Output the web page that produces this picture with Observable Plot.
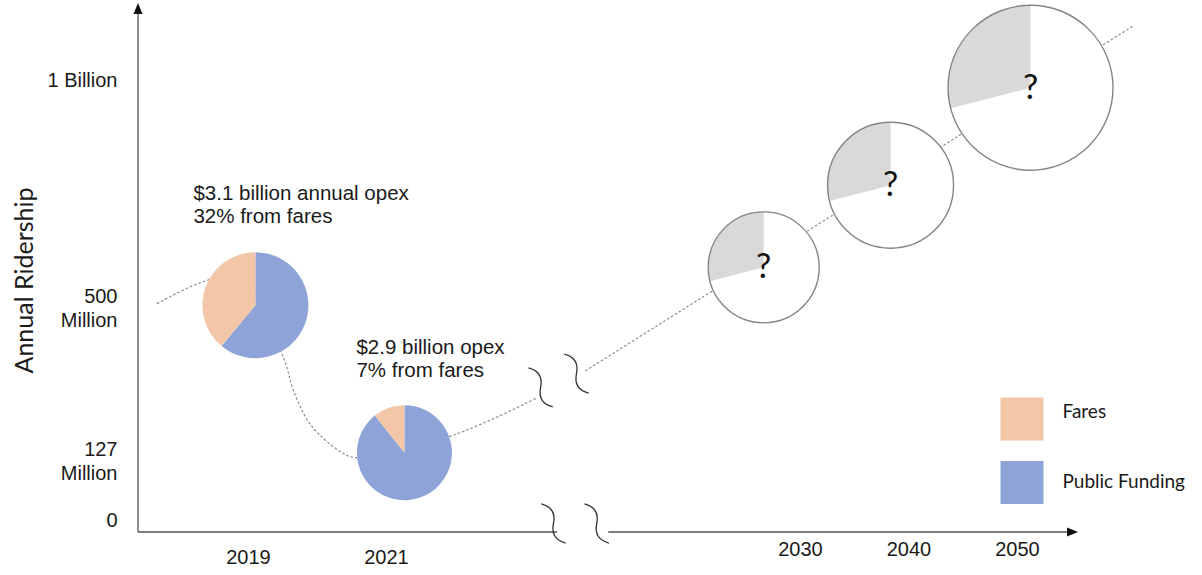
<!DOCTYPE html>
<html><head><meta charset="utf-8">
<script src="https://cdn.jsdelivr.net/npm/d3@7"></script>
<script src="https://cdn.jsdelivr.net/npm/@observablehq/plot@0.6"></script>
<style>
html,body{margin:0;padding:0;background:#fff;}
#chart{width:1202px;height:575px;}
</style>
</head><body><div id="chart"></div>
<script>
// ---------------- data ----------------
const yearTicks = [2019, 2021, 2030, 2040, 2050];
const ridershipTicks = [0, 127, 500, 1000];                 // millions
const ridershipTickLabels = ["0", "127\nMillion", "500\nMillion", "1 Billion"];

const pieYears = [2019, 2021, 2030, 2040, 2050];
const pieAt = [2019.1, 2021.39, 2029.2, 2038.3, 2051.2];     // place on the broken time axis
const pieRidership = [505, 146, 588, 768, 982];              // millions (pie centres)
const fareShare = [0.39, 0.107, null, null, null];           // share of opex from fares (as drawn)
const unknownShare = [null, null, 0.29, 0.29, 0.29];         // grey "?" slice
const annotationText = ["$3.1 billion annual opex\n32% from fares", "$2.9 billion opex\n7% from fares"];

const trendBeforeYear = [2017.68, 2018.35, 2018.88, 2019.51, 2019.65, 2019.86, 2020.04, 2020.33, 2020.55, 2022.43, 2024.24];
const trendBeforeRidership = [509, 557, 570, 376, 298, 224, 188, 149, 134, 188, 278];
const trendAfterYear = [2025.33, 2060.7];
const trendAfterRidership = [346, 1118];

const lineBreakYear = [2024.35, 2025.13];
const lineBreakRidership = [305, 339];
const axisBreakYear = [2024.63, 2025.57];
const axisGap = [2024.72, 2025.83];

const legendLabels = ["Fares", "Public Funding"];

// ---------------- layout / style ----------------
const pieRadius = [53, 47.5, 55.5, 63, 82.5];
const C = {fares: "#F3C6A7", pub: "#8EA4D9", unknown: "#D9D9D9", rest: "#FFFFFF", outline: "#858585", text: "#1a1a1a"};
const legendColors = [C.fares, C.pub];

const pies = pieYears.map((year, i) => ({
  year, at: pieAt[i], ridership: pieRidership[i], fare: fareShare[i], unknown: unknownShare[i], r: pieRadius[i]
}));
const trendBefore = trendBeforeYear.map((year, i) => ({year, ridership: trendBeforeRidership[i]}));
const trendAfter = trendAfterYear.map((year, i) => ({year, ridership: trendAfterRidership[i]}));
const lineBreaks = lineBreakYear.map((year, i) => ({year, ridership: lineBreakRidership[i]}));

function wedge(r, t0, t1) {
  const a0 = -Math.PI / 2 + 2 * Math.PI * t0, a1 = -Math.PI / 2 + 2 * Math.PI * t1;
  return {draw(ctx) { ctx.moveTo(0, 0); ctx.arc(0, 0, r, a0, a1, false); ctx.closePath(); }};
}
const squiggle = {draw(ctx) {
  ctx.moveTo(-23, 0); ctx.quadraticCurveTo(-11.5, -11, 0, 0); ctx.quadraticCurveTo(11.5, 11, 23, 0);
}};
function square(s) { return {draw(ctx) { ctx.rect(-s / 2, -s / 2, s, s); }}; }

const pieMarks = pies.flatMap((p) => {
  const slices = p.fare != null
    ? [{t0: 0, t1: 1 - p.fare, fill: C.pub}, {t0: 1 - p.fare, t1: 1, fill: C.fares}]
    : [{t0: 0, t1: 1 - p.unknown, fill: C.rest}, {t0: 1 - p.unknown, t1: 1, fill: C.unknown}];
  const marks = slices.map((s) => Plot.dot([p], {x: "at", y: "ridership", r: p.r, symbol: wedge(p.r, s.t0, s.t1), fill: s.fill, stroke: "none"}));
  if (p.fare == null) {
    marks.push(Plot.dot([p], {x: "at", y: "ridership", r: p.r, fill: "none", stroke: C.outline, strokeWidth: 1.4}));
    marks.push(Plot.text([p], {x: "at", y: "ridership", text: () => "?", fontFamily: "Lato", fontSize: 34, fill: "#111"}));
  }
  return marks;
});

function axes(index, scales, values, dimensions) {
  const {width, height, marginLeft, marginRight, marginTop, marginBottom} = dimensions;
  const x0 = marginLeft, y0 = height - marginBottom, xEnd = width - marginRight;
  const g = d3.create("svg:g");
  const stroke = "#555";
  g.append("line").attr("x1", x0).attr("x2", x0).attr("y1", y0).attr("y2", marginTop - 2).attr("stroke", stroke).attr("stroke-width", 1.3);
  g.append("path").attr("d", `M${x0},${marginTop - 11}L${x0 - 4.5},${marginTop}L${x0 + 4.5},${marginTop}Z`).attr("fill", "#111");
  const g0 = scales.x(axisGap[0]), g1 = scales.x(axisGap[1]);
  g.append("line").attr("x1", x0).attr("x2", g0).attr("y1", y0).attr("y2", y0).attr("stroke", stroke).attr("stroke-width", 1.3);
  g.append("line").attr("x1", g1).attr("x2", xEnd - 9).attr("y1", y0).attr("y2", y0).attr("stroke", stroke).attr("stroke-width", 1.3);
  g.append("path").attr("d", `M${xEnd},${y0}L${xEnd - 11},${y0 - 4.5}L${xEnd - 11},${y0 + 4.5}Z`).attr("fill", "#111");
  return g.node();
}

const dotted = {stroke: "#8a8a8a", strokeWidth: 1.2, strokeDasharray: "1.6,3"};

const chart = Plot.plot({
  width: 1202,
  height: 575,
  marginTop: 14,
  marginLeft: 138,
  marginRight: 124,
  marginBottom: 43,
  style: {fontFamily: "Liberation Sans, Arial, sans-serif", fontSize: "20px", color: C.text, background: "#fff"},
  x: {type: "linear", domain: [2019, 2021, 2030, 2050], range: [248, 386, 800, 1017], axis: null},
  y: {type: "linear", domain: [0, 127, 500, 1000], range: [519, 460, 307, 79], axis: null},
  marks: [
    axes,
    // dotted ridership path
    Plot.line(trendBefore, {x: "year", y: "ridership", curve: "catmull-rom", ...dotted}),
    Plot.line(trendAfter, {x: "year", y: "ridership", ...dotted}),
    // break marks
    Plot.dot(lineBreaks, {x: "year", y: "ridership", symbol: squiggle, rotate: 58, fill: "none", stroke: "#333", strokeWidth: 1.3}),
    Plot.dot(axisBreakYear, {x: (d) => d, frameAnchor: "bottom", dy: -9, symbol: squiggle, rotate: 58, fill: "none", stroke: "#333", strokeWidth: 1.3}),
    // pies
    ...pieMarks,
    // annotations
    Plot.text([pies[0]], {x: "at", y: "ridership", text: () => annotationText[0], dx: -62, dy: -101, textAnchor: "start", lineHeight: 1.1, fontSize: 20.5, fill: C.text}),
    Plot.text([pies[1]], {x: "at", y: "ridership", text: () => annotationText[1], dx: -48, dy: -95, textAnchor: "start", lineHeight: 1.12, fontSize: 20.5, fill: C.text}),
    // y tick labels
    Plot.text(ridershipTicks, {y: (d) => d, text: (d, i) => ridershipTickLabels[i], frameAnchor: "left", dx: -21, textAnchor: "end", lineHeight: 1.2, fontSize: 20, fill: C.text}),
    // x tick labels
    Plot.text(yearTicks.filter((d) => d < 2025), {x: (d) => d, text: (d) => String(d), frameAnchor: "bottom", dy: 31, fontSize: 20, fill: C.text}),
    Plot.text(yearTicks.filter((d) => d > 2025), {x: (d) => d, text: (d) => String(d), frameAnchor: "bottom", dy: 23, fontSize: 20, fill: C.text}),
    // y axis title
    Plot.text(["Annual Ridership"], {frameAnchor: "left", dx: -114, dy: 7, rotate: -90, textAnchor: "middle", text: (d) => d, fontFamily: "Lato", fontSize: 25, fill: C.text}),
    // legend
    ...legendLabels.map((label, i) => Plot.dot([label], {frameAnchor: "bottom-right", dx: -56.5, dy: i === 0 ? -113.5 : -50, symbol: square(43), fill: legendColors[i], stroke: "none"})),
    ...legendLabels.map((label, i) => Plot.text([label], {frameAnchor: "bottom-right", dx: -16, dy: i === 0 ? -115 : -45, text: (d) => d, textAnchor: "start", fontFamily: "Lato", fontSize: 19, fill: C.text}))
  ]
});
document.getElementById("chart").appendChild(chart);
</script>
</body></html>
